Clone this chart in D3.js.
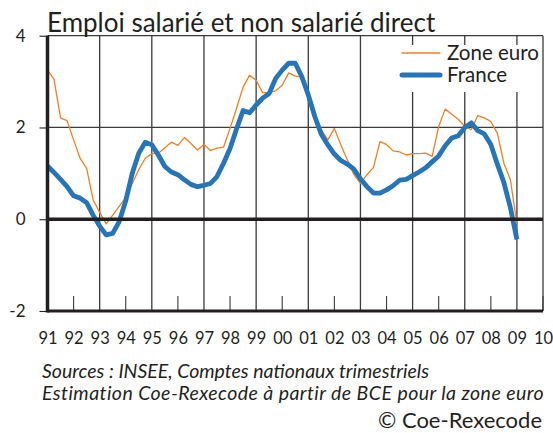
<!DOCTYPE html>
<html>
<head>
<meta charset="utf-8">
<script src="https://cdnjs.cloudflare.com/ajax/libs/d3/7.8.5/d3.min.js"></script>
<style>
	body { margin: 0; background: #fff; }
	text { font-family: Lato, "Noto Sans", sans-serif; fill: #231f20; }
</style>
</head>
<body>
<svg id="chart"></svg>
<script>
// trimestres, de 1991T1 a 2009T1
const startYear = 1991;
const zoneEuro = [3.25, 3.05, 2.21, 2.15, 1.73, 1.33, 1.11, 0.42, 0.15, -0.10,
	0.09, 0.28, 0.47, 0.78, 1.08, 1.33, 1.43, 1.44, 1.56, 1.68,
	1.61, 1.78, 1.65, 1.51, 1.63, 1.50, 1.55, 1.57, 1.98, 2.42,
	2.88, 3.14, 3.03, 2.76, 2.76, 2.80, 2.92, 3.19, 3.12, 3.10,
	2.74, 2.16, 1.95, 1.73, 1.98, 1.62, 1.29, 0.97, 0.78, 0.97,
	1.13, 1.69, 1.63, 1.49, 1.47, 1.40, 1.43, 1.43, 1.44, 1.37,
	2.02, 2.40, 2.29, 2.18, 2.02, 1.95, 2.26, 2.21, 2.13, 1.87,
	1.22, 0.86, -0.10];
const france = [1.16, 1.02, 0.87, 0.71, 0.51, 0.46, 0.36, 0.09, -0.15, -0.34,
	-0.31, -0.05, 0.40, 1.00, 1.44, 1.68, 1.62, 1.40, 1.15, 1.03,
	0.97, 0.86, 0.76, 0.71, 0.74, 0.78, 0.93, 1.22, 1.54, 1.97,
	2.37, 2.32, 2.49, 2.64, 2.74, 3.07, 3.25, 3.40, 3.40, 3.11,
	2.71, 2.24, 1.85, 1.62, 1.42, 1.28, 1.20, 1.09, 0.88, 0.71,
	0.57, 0.57, 0.64, 0.73, 0.85, 0.87, 0.95, 1.03, 1.12, 1.25,
	1.38, 1.60, 1.77, 1.82, 2.00, 2.10, 1.93, 1.86, 1.63, 1.20,
	0.80, 0.25, -0.44];
const yearTicks = d3.range(1991, 2011);
const valueTicks = [-2, 0, 2, 4];
const legendNames = ["Zone euro", "France"];

const W = 553, H = 433;
const svg = d3.select("#chart").attr("width", W).attr("height", H);

let x = d3.scaleLinear().domain([1991, 2010]).range([47.5, 543]);
let y = d3.scaleLinear().domain([-2, 4]).range([311, 35.7]);

let grid = svg.append("g");

// lignes verticales aux annees impaires
grid.selectAll(".vline").data(yearTicks.filter(d => d % 2 == 1 && d > 1991)).enter().append("line")
	.attr("x1", d => x(d)).attr("x2", d => x(d))
	.attr("y1", y(4)).attr("y2", y(-2))
	.attr("stroke", "#3a3a3a").attr("stroke-width", 1.3);

// petits traits aux annees paires
grid.selectAll(".minor").data(yearTicks.filter(d => d % 2 == 0)).enter().append("line")
	.attr("x1", d => x(d)).attr("x2", d => x(d))
	.attr("y1", y(-2) - 15).attr("y2", y(-2))
	.attr("stroke", "#3a3a3a").attr("stroke-width", 1.1);

grid.append("line").attr("x1", x(1991)).attr("x2", x(2010)).attr("y1", y(2)).attr("y2", y(2))
	.attr("stroke", "#3a3a3a").attr("stroke-width", 1.3);
grid.append("line").attr("x1", x(1991)).attr("x2", x(2010)).attr("y1", y(4)).attr("y2", y(4))
	.attr("stroke", "#3a3a3a").attr("stroke-width", 1.3);
grid.append("line").attr("x1", x(2010)).attr("x2", x(2010)).attr("y1", y(4)).attr("y2", y(-2))
	.attr("stroke", "#3a3a3a").attr("stroke-width", 1.3);

// axe y
let yAxis = svg.append("g").attr("transform", "translate(" + x(1991) + ",0)")
	.call(d3.axisLeft(y).tickValues(valueTicks).tickSize(8).tickPadding(14).tickFormat(d => String(d)));
yAxis.select(".domain").remove();
yAxis.selectAll("line").attr("stroke", "#231f20").attr("stroke-width", 1.1);
yAxis.selectAll("text").style("font-size", "17px").style("font-family", "Lato, sans-serif").attr("fill", "#231f20");

// axe x
let xAxis = svg.append("g").attr("transform", "translate(0," + y(-2) + ")")
	.call(d3.axisBottom(x).tickValues(yearTicks).tickSize(0).tickPadding(21)
		.tickFormat(d => String(d % 100).padStart(2, "0")));
xAxis.select(".domain").remove();
xAxis.selectAll("text").style("font-size", "16.5px").style("font-family", "Lato, sans-serif").attr("fill", "#231f20");

// legende (fond blanc par dessus la grille)
let legend = svg.append("g");
legend.append("rect").attr("x", 398).attr("y", 45).attr("width", 142).attr("height", 47).attr("fill", "#fff");
let legendColors = ["#f47f20", "#2775b9"];
let legendWidths = [1.3, 5];
legendNames.forEach((name, i) => {
	legend.append("line").attr("x1", 402).attr("x2", 440)
		.attr("y1", 53 + i * 22).attr("y2", 53 + i * 22)
		.attr("stroke", legendColors[i]).attr("stroke-width", legendWidths[i]).attr("stroke-linecap", "round");
	legend.append("text").attr("x", 447).attr("y", 59.5 + i * 22)
		.style("font-size", "20.5px").text(name);
});

// series
let line = d3.line().x((d, i) => x(startYear + i / 4)).y(d => y(d));
svg.append("path").datum(zoneEuro).attr("d", line)
	.attr("fill", "none").attr("stroke", legendColors[0]).attr("stroke-width", 1.3).attr("stroke-linejoin", "round");
svg.append("path").datum(france).attr("d", line)
	.attr("fill", "none").attr("stroke", legendColors[1]).attr("stroke-width", 4.8).attr("stroke-linejoin", "round");

// axes epais
svg.append("line").attr("x1", x(1991)).attr("x2", x(2010)).attr("y1", y(0)).attr("y2", y(0))
	.attr("stroke", "#231f20").attr("stroke-width", 3.5);
svg.append("line").attr("x1", x(1991)).attr("x2", x(2010)).attr("y1", y(-2)).attr("y2", y(-2))
	.attr("stroke", "#231f20").attr("stroke-width", 3);
svg.append("line").attr("x1", x(1991)).attr("x2", x(1991)).attr("y1", y(4)).attr("y2", y(-2) + 1.5)
	.attr("stroke", "#231f20").attr("stroke-width", 3.5);

// titre et sources
svg.append("text").attr("x", 47).attr("y", 32).style("font-size", "26px").text("Emploi salarié et non salarié direct");
svg.append("text").attr("x", 42).attr("y", 378).style("font-size", "19.5px").style("font-style", "italic")
	.text("Sources : INSEE, Comptes nationaux trimestriels");
svg.append("text").attr("x", 42).attr("y", 400).style("font-size", "19.5px").style("font-style", "italic")
	.style("letter-spacing", "0.45px")
	.text("Estimation Coe-Rexecode à partir de BCE pour la zone euro");
svg.append("text").attr("x", 378).attr("y", 427.5).style("font-size", "22px").text("© Coe-Rexecode");
</script>
</body>
</html>
